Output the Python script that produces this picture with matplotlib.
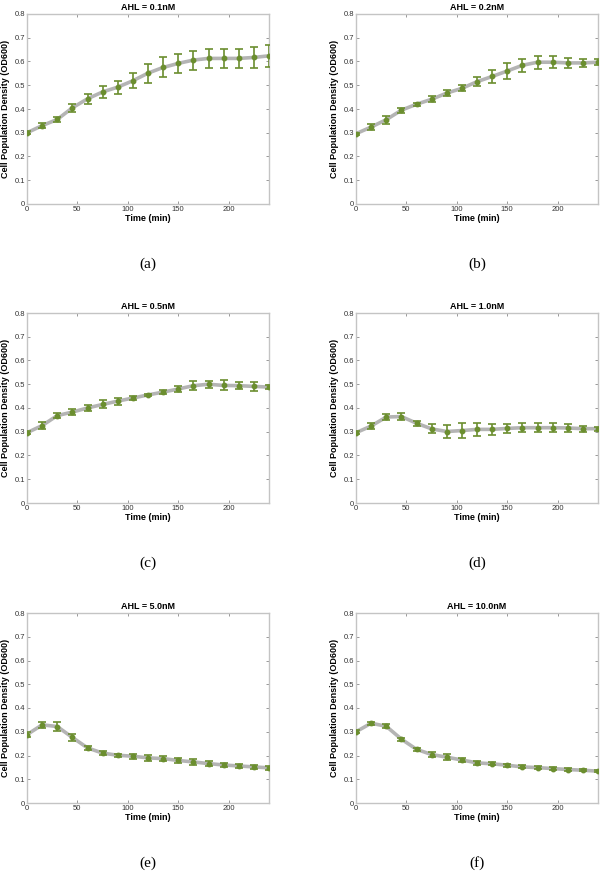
import matplotlib
matplotlib.use("Agg")
import matplotlib.pyplot as plt
import numpy as np

time_min = [0, 15, 30, 45, 60, 75, 90, 105, 120, 135, 150, 165, 180, 195, 210, 225, 240]

titles = ["AHL = 0.1nM", "AHL = 0.2nM", "AHL = 0.5nM", "AHL = 1.0nM", "AHL = 5.0nM", "AHL = 10.0nM"]
panel_labels = ["(a)", "(b)", "(c)", "(d)", "(e)", "(f)"]

od_a = [0.300, 0.330, 0.356, 0.405, 0.443, 0.472, 0.492, 0.519, 0.551, 0.575, 0.592, 0.606, 0.613, 0.613, 0.613, 0.617, 0.624]
err_a = [0.006, 0.010, 0.012, 0.016, 0.020, 0.025, 0.027, 0.032, 0.040, 0.042, 0.041, 0.040, 0.040, 0.040, 0.040, 0.043, 0.047]

od_b = [0.296, 0.324, 0.355, 0.395, 0.420, 0.441, 0.467, 0.487, 0.515, 0.537, 0.560, 0.584, 0.597, 0.597, 0.594, 0.594, 0.597]
err_b = [0.005, 0.011, 0.017, 0.011, 0.007, 0.012, 0.012, 0.013, 0.020, 0.027, 0.032, 0.028, 0.027, 0.025, 0.020, 0.016, 0.013]

od_c = [0.296, 0.326, 0.368, 0.383, 0.400, 0.415, 0.429, 0.442, 0.455, 0.467, 0.480, 0.494, 0.500, 0.495, 0.494, 0.491, 0.488]
err_c = [0.007, 0.015, 0.011, 0.013, 0.013, 0.017, 0.015, 0.007, 0.006, 0.008, 0.013, 0.018, 0.014, 0.021, 0.016, 0.020, 0.010]

od_d = [0.296, 0.324, 0.362, 0.364, 0.336, 0.312, 0.301, 0.305, 0.310, 0.310, 0.314, 0.317, 0.317, 0.317, 0.316, 0.313, 0.313]
err_d = [0.006, 0.014, 0.014, 0.014, 0.010, 0.019, 0.028, 0.030, 0.027, 0.022, 0.020, 0.019, 0.018, 0.018, 0.015, 0.012, 0.008]

od_e = [0.288, 0.329, 0.322, 0.276, 0.232, 0.210, 0.201, 0.197, 0.190, 0.187, 0.179, 0.173, 0.166, 0.160, 0.156, 0.152, 0.148]
err_e = [0.012, 0.013, 0.020, 0.015, 0.007, 0.007, 0.007, 0.011, 0.012, 0.010, 0.010, 0.011, 0.010, 0.008, 0.009, 0.008, 0.007]

od_f = [0.300, 0.336, 0.323, 0.269, 0.226, 0.204, 0.193, 0.181, 0.169, 0.165, 0.159, 0.152, 0.149, 0.145, 0.141, 0.138, 0.134]
err_f = [0.006, 0.007, 0.008, 0.006, 0.006, 0.012, 0.013, 0.009, 0.008, 0.007, 0.006, 0.006, 0.006, 0.005, 0.005, 0.004, 0.005]

series = [(od_a, err_a), (od_b, err_b), (od_c, err_c), (od_d, err_d), (od_e, err_e), (od_f, err_f)]

plt.rcParams['font.family'] = ['Liberation Sans', 'DejaVu Sans']

fig = plt.figure(figsize=(6, 8.71), dpi=100)
W, H = 600.0, 871.0
col_left = [27, 356]
row_top = [14, 313, 613]
ax_w, ax_h = 242, 190
label_y = [264, 563, 863]

green = '#6b8e2f'
gray_line = '#b4b4b4'
spine_col = '#c4c4c4'

for i, ((od, err), title, plab) in enumerate(zip(series, titles, panel_labels)):
    r, c = divmod(i, 2)
    left = col_left[c] / W
    bottom = 1 - (row_top[r] + ax_h) / H
    ax = fig.add_axes([left, bottom, ax_w / W, ax_h / H])
    ax.plot(time_min, od, color=gray_line, lw=2.6, zorder=2, solid_capstyle='round')
    ax.errorbar(time_min, od, yerr=err, fmt='o', color=green, ms=3.2,
                ecolor=green, elinewidth=1.2, capsize=2.6, capthick=1.2, zorder=3)
    ax.set_xlim(0, 240)
    ax.set_ylim(0, 0.8)
    ax.set_xticks([0, 50, 100, 150, 200])
    ax.set_yticks([0, 0.1, 0.2, 0.3, 0.4, 0.5, 0.6, 0.7, 0.8])
    ax.set_yticklabels(['0', '0.1', '0.2', '0.3', '0.4', '0.5', '0.6', '0.7', '0.8'])
    ax.tick_params(direction='in', length=2, width=0.6, color='#888888', labelsize=5.5,
                   labelcolor='#333333', pad=1.5, top=True, right=True)
    for sp in ax.spines.values():
        sp.set_color(spine_col)
        sp.set_linewidth(1.0)
    ax.set_title(title, fontsize=6.5, fontweight='bold', pad=3)
    ax.set_xlabel('Time (min)', fontsize=6.5, fontweight='bold', labelpad=1)
    ax.set_ylabel('Cell Population Density (OD600)', fontsize=6.5, fontweight='bold', labelpad=3)
    cx = (col_left[c] + ax_w / 2) / W
    fig.text(cx, 1 - label_y[r] / H, plab, ha='center', va='center', fontsize=11,
             family=['Liberation Serif', 'DejaVu Serif'])

fig.savefig('out.png', dpi=100, facecolor='white')
